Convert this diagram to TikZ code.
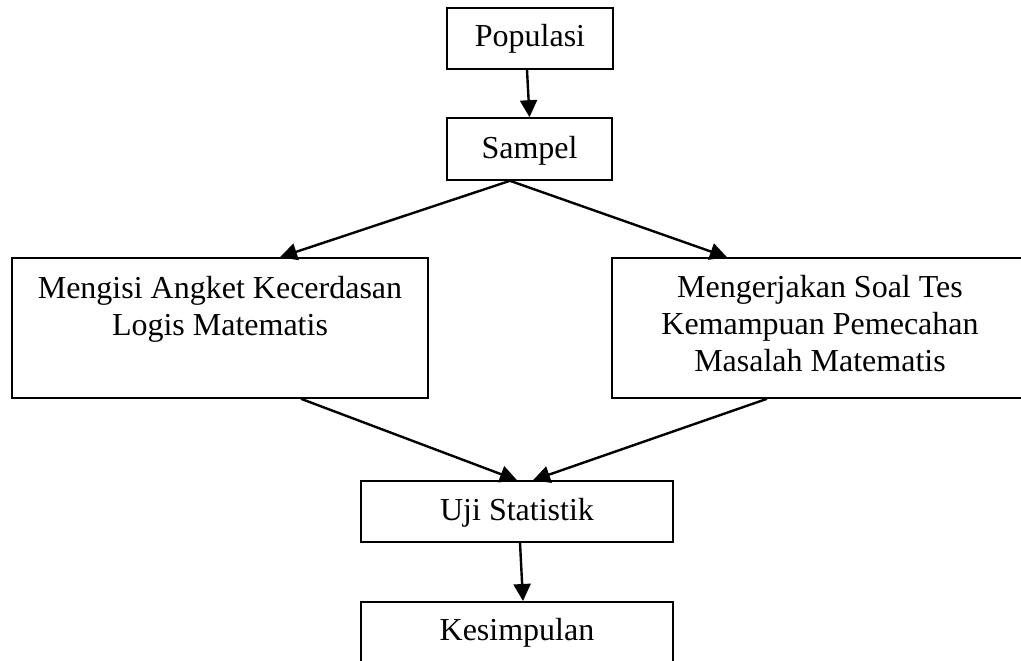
\documentclass[tikz,border=0pt]{standalone}
\usepackage{fontspec}
\setmainfont{Liberation Serif}
\usetikzlibrary{arrows.meta}
\begin{document}
\begin{tikzpicture}[x=1pt,y=-1pt,
  box/.style={draw=black, line width=1.6pt, rectangle, inner sep=0pt},
  txt/.style={font=\fontsize{32}{37}\selectfont, align=center, inner sep=0pt, anchor=base},
  conn/.style={line width=2.4pt, -{Triangle[length=17pt,width=17pt]}, shorten >=0pt}
]
\clip (0,0) rectangle (1021,661);
\fill[white] (0,0) rectangle (1021,661);
% boxes
\node[box, minimum width=166pt, minimum height=61pt] (pop) at (530,38.5) {};
\node[txt] (popt) at (530,47) {Populasi};
\node[box, minimum width=165pt, minimum height=62pt] (samp) at (529.5,149) {};
\node[txt] (sampt) at (529.5,158) {Sampel};
\node[box, minimum width=416pt, minimum height=140pt] (left) at (220,328) {};
\node[txt] (leftt) at (220,335) {Mengisi Angket Kecerdasan\\Logis Matematis};
\node[box, minimum width=416pt, minimum height=140pt] (right) at (820,328) {};
\node[txt] (rightt) at (820,371) {Mengerjakan Soal Tes\\Kemampuan Pemecahan\\Masalah Matematis};
\node[box, minimum width=312pt, minimum height=61pt] (uji) at (517,511.5) {};
\node[txt] (ujit) at (517,520) {Uji Statistik};
\node[box, minimum width=312pt, minimum height=62pt, anchor=north] (kes) at (517,601) {};
\node[txt] (kest) at (517,640) {Kesimpulan};
% connectors
\draw[conn] ([xshift=-3pt]pop.south) -- ([xshift=0pt]samp.north);
\draw[conn] ([xshift=-19.5pt]samp.south) -- ([xshift=60pt]left.north);
\draw[conn] ([xshift=-19.5pt]samp.south) -- ([xshift=-93pt]right.north);
\draw[conn] ([xshift=81pt]left.south) -- ([xshift=0pt]uji.north);
\draw[conn] ([xshift=-53pt]right.south) -- ([xshift=16pt]uji.north);
\draw[conn] ([xshift=3pt]uji.south) -- ([xshift=6pt]kes.north);
\end{tikzpicture}
\end{document}
